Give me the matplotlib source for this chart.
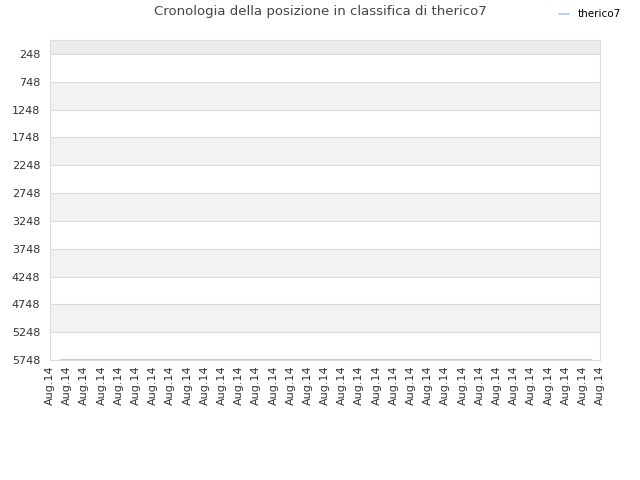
import matplotlib
matplotlib.use("Agg")
import matplotlib.pyplot as plt
import numpy as np

title = "Cronologia della posizione in classifica di therico7"
series_name = "therico7"
x_tick_labels = ["Aug.14"] * 33
y_ticks = [248, 748, 1248, 1748, 2248, 2748, 3248, 3748, 4248, 4748, 5248, 5748]
x_values = [0.64, 31.5]
rank_values = [5748, 5748]

fig = plt.figure(figsize=(6.4, 4.8), dpi=100)
ax = fig.add_axes([50/640, 1-360/480, 550/640, 320/480])

ymin, ymax = -4, 5748
ax.set_ylim(ymax, ymin)
ax.set_xlim(0, len(x_tick_labels) - 1)

# alternating bands
bounds = [ymin] + y_ticks
for i in range(len(bounds) - 1):
    lo, hi = bounds[i], bounds[i+1]
    if i == 0:
        c = "#ececec"
    elif i % 2 == 0:
        c = "#f2f2f2"
    else:
        c = "#ffffff"
    ax.axhspan(lo, hi, color=c, zorder=0, lw=0)
for t in y_ticks:
    ax.axhline(t, color="#dcdcdc", lw=0.8, zorder=1)

ax.plot(x_values, rank_values, color="#a8c8f0", lw=1.2, zorder=3, label=series_name)

ax.set_yticks(y_ticks)
ax.set_yticklabels([str(v) for v in y_ticks], fontsize=8, color="#333333")
ax.set_xticks(np.arange(len(x_tick_labels)))
ax.set_xticklabels(x_tick_labels, rotation=90, fontsize=8, color="#333333")
ax.tick_params(axis="y", length=0, pad=7)
ax.tick_params(axis="x", length=0, pad=4)
for s in ax.spines.values():
    s.set_color("#dddddd")
    s.set_linewidth(0.8)

fig.text(0.5, 1-12/480, title, ha="center", va="center", fontsize=9.5, color="#444444")
leg = fig.legend(loc="upper right", bbox_to_anchor=(0.985, 1.0), frameon=False,
                 fontsize=7.5, handlelength=1.0, handletextpad=0.8)

fig.savefig("out.png", dpi=100)
